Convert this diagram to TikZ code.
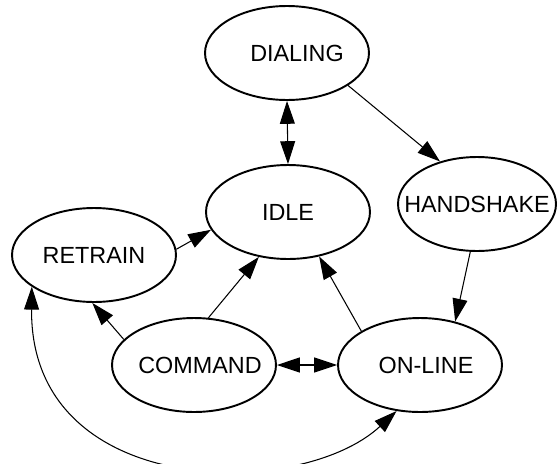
\documentclass[tikz,border=0pt]{standalone}
\usepackage{fontspec}
\setmainfont{Liberation Sans}
\usetikzlibrary{shapes.geometric,arrows.meta}
\begin{document}
\begin{tikzpicture}
        [x=0.02cm, y=-0.02cm,
        state/.style={ellipse, draw, line width=1.1pt, inner sep=0pt, minimum width=3.28cm, minimum height=1.88cm, font=\fontsize{13.3}{16}\selectfont},
        arr/.style={line width=0.6pt, -{Triangle[length=13pt, width=8.5pt]}},
        darr/.style={line width=0.6pt, {Triangle[length=13pt, width=8.5pt]}-{Triangle[length=13pt, width=8.5pt]}}]
        \useasboundingbox (0,0) rectangle (557,463);
        \node[state] (dial) at (287,53) {\makebox[0pt]{\kern0.4cm DIALING}};
        \node[state] (idle) at (288,212) {\makebox[0pt]{IDLE}};
        \node[state, minimum width=3.16cm] (hand) at (477,204) {\makebox[0pt]{HANDSHAKE}};
        \node[state] (retr) at (94,255) {\makebox[0pt]{RETRAIN}};
        \node[state] (cmd) at (194,365) {\makebox[0pt]{\kern0.24cm COMMAND}};
        \node[state] (onl) at (420,365) {\makebox[0pt]{\kern0.24cm ON-LINE}};

        \draw[darr] (dial.south) -- (idle.north);
        \draw[arr] (dial.-28) -- (hand.131);
        \draw[arr] (hand.-98) -- (onl.51);
        \draw[arr] (onl.150) -- (idle.-55);
        \draw[arr] (cmd.73) -- (idle.-123);
        \draw[arr] (cmd.160) -- (retr.-92);
        \draw[arr] (retr.4) -- (idle.-167);
        \draw[darr] (cmd.east) -- (onl.west);
        \draw[darr] (retr.-153) .. controls +(-2,213) and +(-97,90) .. (onl.-117);

    \end{tikzpicture}
\end{document}
